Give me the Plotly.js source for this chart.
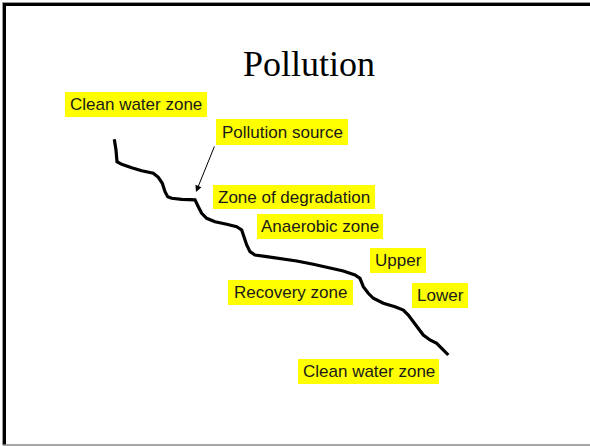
<!DOCTYPE html>
<html>
<head>
<meta charset="utf-8">
<script src="https://cdn.plot.ly/plotly-3.0.1.min.js"></script>
<style>html,body{margin:0;padding:0;background:#fff;}#chart{width:590px;height:446px;}</style>
</head>
<body>
<div id="chart"></div>
<script>
// River profile line (pixel-space coordinates)
const riverX = [114.3,116,117,121.7,131.7,141.7,153.3,158.3,162.3,165,167.7,171.7,181.7,190,195,198.3,201.7,206.7,215,226.7,236.7,241.7,244,246.7,250,255,266.7,280,296.7,313.3,330,343.3,355,360,363.3,368.3,373.3,383.3,395,403.3,408.3,413.3,418.3,423.3,430,436.7,441.7,448.3];
const riverY = [139.3,150,161.7,164.3,167.7,170.7,173.3,177.3,183.3,191.7,196.7,198.3,199.3,200,199.8,206.7,213.3,218.3,221.7,224.3,226.7,230,236.7,245,251.7,255,256.7,258.3,261,264.3,268.3,271,275,278.3,286.7,293.3,298.3,303.3,306.7,310,315,321.7,328.3,335,340,343.3,348.3,355];

// Labels
const labelText = ["Clean water zone","Pollution source","Zone of degradation","Anaerobic zone","Upper","Recovery zone","Lower","Clean water zone"];
const boxX0 = [65,216,213,257,370,228,412,298];
const boxX1 = [207,348,375,383,426,353,468,439];
const boxY0 = [92,119,185,214,248,280,283,359];
const boxY1 = [117,145,209,239,273,305,308,384];

// Arrow from "Pollution source" to the line
const arrowFrom = [215,145];
const arrowTo = [196,192];

const shapes = [];
const annotations = [];
for (let i = 0; i < labelText.length; i++) {
  shapes.push({type:'rect', xref:'x', yref:'y', x0:boxX0[i], x1:boxX1[i], y0:boxY0[i], y1:boxY1[i],
    fillcolor:'#ffff00', line:{width:0}, layer:'below'});
  annotations.push({xref:'x', yref:'y', x:(boxX0[i]+boxX1[i])/2, y:(boxY0[i]+boxY1[i])/2,
    text:labelText[i], showarrow:false, xanchor:'center', yanchor:'middle',
    font:{family:'Liberation Sans, Arial, sans-serif', size:17, color:'#1a1a1a'}});
}
annotations.push({xref:'x', yref:'y', axref:'x', ayref:'y', x:arrowTo[0], y:arrowTo[1], ax:arrowFrom[0], ay:arrowFrom[1],
  text:'', showarrow:true, arrowhead:2, arrowsize:1.3, arrowwidth:1, arrowcolor:'#000'});

// Slide frame
shapes.push({type:'line', xref:'x', yref:'y', x0:3, x1:592, y0:4.5, y1:4.5, line:{color:'#000', width:3}});
shapes.push({type:'line', xref:'x', yref:'y', x0:4.5, x1:4.5, y0:3, y1:445, line:{color:'#000', width:3}});
shapes.push({type:'line', xref:'x', yref:'y', x0:3, x1:592, y0:445, y1:445, line:{color:'#888', width:1.5}});
shapes.push({type:'line', xref:'x', yref:'y', x0:2.5, x1:592, y0:2.5, y1:2.5, line:{color:'#999', width:1}});
shapes.push({type:'line', xref:'x', yref:'y', x0:2.5, x1:2.5, y0:2.5, y1:445, line:{color:'#999', width:1}});

const data = [{
  type:'scatter', mode:'lines', x:riverX, y:riverY,
  line:{color:'#000', width:3.2, shape:'linear'}, hoverinfo:'skip'
}];

const layout = {
  width:590, height:446,
  margin:{l:0, r:0, t:0, b:0, pad:0},
  paper_bgcolor:'#fff', plot_bgcolor:'#fff',
  showlegend:false,
  title:{text:'Pollution', xref:'container', yref:'container', x:309/590, y:1-63/446,
    xanchor:'center', yanchor:'middle',
    font:{family:'Liberation Serif, Times New Roman, serif', size:36, color:'#000'}},
  xaxis:{range:[0,590], visible:false, fixedrange:true},
  yaxis:{range:[446,0], visible:false, fixedrange:true},
  shapes:shapes,
  annotations:annotations
};

Plotly.newPlot('chart', data, layout, {staticPlot:true, displayModeBar:false});
</script>
</body>
</html>
